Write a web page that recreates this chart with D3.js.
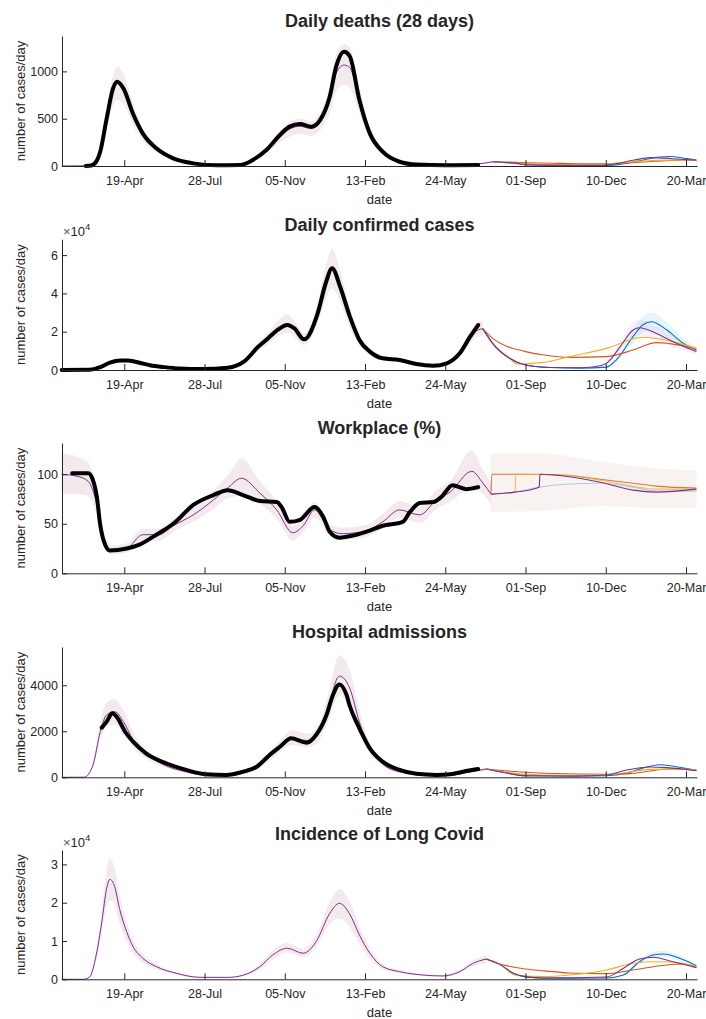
<!DOCTYPE html>
<html>
<head>
<meta charset="utf-8">
<script src="https://cdn.jsdelivr.net/npm/d3@7"></script>
<style>
body{margin:0;background:#fff}
text{font-family:"Liberation Sans",Arial,Helvetica,sans-serif;fill:#262626}
</style>
</head>
<body>
<svg id="chart" width="706" height="1019"></svg>
<script>
// x ticks, 100 days apart
var tickDates = ["2020-04-19","2020-07-28","2020-11-05","2021-02-13","2021-05-24","2021-09-01","2021-12-10","2022-03-20"]

// ---------- Daily deaths (28 days)
var deathsObs = [["2020-03-02",0],["2020-03-09",5],["2020-03-16",60],["2020-03-20",150],["2020-03-28",500],["2020-04-05",820],["2020-04-10",891],["2020-04-18",820],["2020-04-30",550],["2020-05-12",345],["2020-05-29",187],["2020-06-19",81],["2020-07-14",28],["2020-08-12",7],["2020-09-10",10],["2020-09-26",63],["2020-10-13",169],["2020-10-30",328],["2020-11-11",416],["2020-11-24",444],["2020-12-08",416],["2020-12-19",486],["2020-12-31",733],["2021-01-08",1050],["2021-01-18",1208],["2021-01-25",1160],["2021-02-06",698],["2021-02-19",345],["2021-03-07",151],["2021-03-28",45],["2021-04-18",15],["2021-05-24",7],["2021-07-04",10]]
// [date, lower, model, upper]
var deathsModel = [["2020-02-01",0,0,0],["2020-03-02",0,2,3],["2020-03-16",45,60,75],["2020-03-20",120,150,180],["2020-03-28",400,490,590],["2020-04-05",640,800,960],["2020-04-10",700,880,1050],["2020-04-18",650,810,975],["2020-04-30",430,540,650],["2020-05-12",270,335,400],["2020-05-29",145,180,215],["2020-06-19",62,78,94],["2020-07-14",20,26,32],["2020-08-12",4,6,8],["2020-09-10",7,10,13],["2020-09-26",45,58,70],["2020-10-13",130,160,190],["2020-10-30",250,310,370],["2020-11-11",310,390,470],["2020-11-24",340,420,500],["2020-12-08",315,395,475],["2020-12-19",380,470,560],["2020-12-31",560,700,840],["2021-01-08",780,980,1180],["2021-01-18",855,1067,1290],["2021-01-25",830,1040,1250],["2021-02-06",560,690,830],["2021-02-19",280,345,410],["2021-03-07",120,150,180],["2021-03-28",35,45,55],["2021-04-18",12,15,18],["2021-05-24",6,8,10],["2021-07-04",18,22,27],["2021-07-22",37,45,54]]
var deathsBlue = [["2021-07-22",45],["2021-08-21",26],["2021-09-19",10],["2021-10-14",6],["2021-11-08",5],["2021-12-03",6],["2021-12-23",12],["2022-01-21",55],["2022-02-15",95],["2022-02-28",100],["2022-03-20",80],["2022-04-02",64]]
var deathsOrange = [["2021-07-22",45],["2021-08-21",38],["2021-09-19",32],["2021-10-14",28],["2021-11-08",24],["2021-12-03",22],["2021-12-23",25],["2022-01-21",40],["2022-02-28",58],["2022-03-20",62],["2022-04-02",58]]
var deathsYellow = [["2021-07-22",45],["2021-08-21",28],["2021-09-19",18],["2021-10-14",15],["2021-11-08",15],["2021-12-03",18],["2021-12-23",30],["2022-01-21",50],["2022-02-28",62],["2022-03-20",62],["2022-04-02",58]]
var deathsPurple = [["2021-07-22",45],["2021-08-21",28],["2021-09-01",12],["2021-10-14",8],["2021-11-08",8],["2021-12-03",8],["2021-12-23",25],["2022-01-13",60],["2022-02-03",88],["2022-02-28",80],["2022-03-20",68],["2022-04-02",60]]

// ---------- Daily confirmed cases
var casesObs = [["2020-02-01",0],["2020-03-07",100],["2020-03-20",1500],["2020-04-01",3800],["2020-04-14",5000],["2020-04-24",4900],["2020-05-08",3800],["2020-05-21",2500],["2020-06-08",1500],["2020-06-27",800],["2020-07-25",500],["2020-08-26",1200],["2020-09-15",4350],["2020-10-03",12200],["2020-10-15",16500],["2020-10-27",20900],["2020-11-08",23500],["2020-11-17",21700],["2020-11-29",16000],["2020-12-16",29600],["2020-12-26",45300],["2021-01-03",53100],["2021-01-13",43500],["2021-01-25",28000],["2021-02-06",15700],["2021-02-19",9600],["2021-03-07",6100],["2021-03-28",5200],["2021-04-18",3100],["2021-05-09",2250],["2021-05-26",3500],["2021-06-11",8700],["2021-06-24",17400],["2021-07-04",23500]]
var casesModel = [["2020-02-01",0,0,0],["2020-03-07",50,100,150],["2020-03-20",1200,1500,1800],["2020-04-01",3100,3800,4500],["2020-04-14",4100,5000,5900],["2020-04-24",4000,4900,5800],["2020-05-08",3100,3800,4500],["2020-05-21",2000,2500,3000],["2020-06-08",1200,1500,1800],["2020-06-27",650,800,950],["2020-07-25",400,500,600],["2020-08-26",1000,1200,1400],["2020-09-15",3500,4300,5100],["2020-10-03",10000,12200,14500],["2020-10-15",13500,16500,19500],["2020-10-27",17500,21500,25500],["2020-11-08",19500,24000,29000],["2020-11-17",17500,21500,25500],["2020-11-29",13000,16000,19000],["2020-12-16",24500,29600,35000],["2020-12-26",37000,45300,54000],["2021-01-03",42500,52500,63500],["2021-01-13",35500,43500,52000],["2021-01-25",22500,27500,33000],["2021-02-06",12800,15700,18800],["2021-02-19",7800,9600,11400],["2021-03-07",5000,6100,7200],["2021-03-28",4300,5200,6100],["2021-04-18",2500,3100,3700],["2021-05-09",1850,2250,2650],["2021-05-26",2800,3500,4200],["2021-06-11",7000,8700,10500],["2021-06-24",14000,17000,20500],["2021-07-04",17500,21000,25000],["2021-07-10",17800,21500,25800]]
var casesBlue = [["2021-07-10",21500],["2021-07-22",13900],["2021-08-12",6100],["2021-09-01",2600],["2021-10-01",1300],["2021-11-08",1000],["2021-12-11",1500],["2021-12-23",5200],["2022-01-13",17400],["2022-01-25",23500],["2022-02-05",25200],["2022-02-24",20900],["2022-03-17",13900],["2022-04-02",10400]]
var casesOrange = [["2021-07-10",21500],["2021-07-22",16500],["2021-09-01",9600],["2021-09-24",7800],["2021-10-26",6600],["2021-12-11",7000],["2022-01-13",10400],["2022-02-11",14300],["2022-03-12",13000],["2022-04-02",11000]]
var casesYellow = [["2021-07-10",21500],["2021-07-22",13900],["2021-08-12",6300],["2021-08-21",3100],["2021-09-24",4000],["2021-10-26",7000],["2021-12-11",11300],["2022-01-25",17100],["2022-02-22",15700],["2022-04-02",11300]]
var casesPurple = [["2021-07-10",21500],["2021-07-22",13900],["2021-08-12",6100],["2021-09-01",2600],["2021-10-01",1300],["2021-11-08",1200],["2021-12-03",2200],["2021-12-11",3500],["2021-12-28",12200],["2022-01-13",20900],["2022-01-21",22100],["2022-02-11",19100],["2022-03-04",14800],["2022-04-02",9600]]
// [date, lower, upper]
var casesBlueBand = [["2021-12-11",1200,1800],["2021-12-23",4200,6300],["2022-01-13",14000,21000],["2022-01-25",19500,28000],["2022-02-05",20500,30000],["2022-02-24",17000,25000],["2022-03-17",11500,16500],["2022-04-02",8800,12000]]
var casesPurpleBand = [["2021-12-11",2800,4200],["2021-12-28",9800,14600],["2022-01-13",17000,25000],["2022-01-21",18000,26300],["2022-02-11",15500,22700],["2022-03-04",12000,17600],["2022-04-02",8000,11200]]

// ---------- Workplace (%)
var workObs = [["2020-02-14",101],["2020-03-05",101],["2020-03-11",94],["2020-03-16",76],["2020-03-20",49],["2020-03-26",29],["2020-04-01",23],["2020-04-22",25],["2020-05-08",29],["2020-05-29",39],["2020-06-19",50],["2020-07-14",69],["2020-08-08",79],["2020-08-26",84],["2020-09-14",79],["2020-10-05",73],["2020-10-26",72],["2020-11-01",67],["2020-11-11",52],["2020-11-24",54],["2020-12-12",67],["2020-12-23",57],["2020-12-31",42],["2021-01-12",36],["2021-02-02",39],["2021-02-15",42],["2021-03-07",48],["2021-04-01",52],["2021-04-10",62],["2021-04-22",71],["2021-05-09",72],["2021-05-19",77],["2021-06-02",89],["2021-06-19",85],["2021-07-04",87]]
var workModel = [["2020-02-01",80,100,121],["2020-02-20",80,98,118],["2020-03-05",78,93,112],["2020-03-16",58,69,82],["2020-03-24",30,36,43],["2020-04-03",19,23,28],["2020-04-22",21,25,30],["2020-05-12",33,39,45],["2020-06-01",33,39,45],["2020-06-19",42,48,55],["2020-07-14",52,59,67],["2020-08-08",65,74,84],["2020-08-27",76,87,100],["2020-09-12",78,96,116],["2020-10-05",70,81,93],["2020-10-26",55,64,73],["2020-11-15",33,41,48],["2020-11-28",42,48,55],["2020-12-12",56,64,72],["2020-12-31",38,44,50],["2021-01-16",34,40,46],["2021-02-15",37,43,49],["2021-03-07",45,52,60],["2021-03-28",56,64,73],["2021-04-22",51,59,67],["2021-05-13",65,74,84],["2021-05-30",72,82,93],["2021-06-26",86,103,124],["2021-07-10",80,91,104],["2021-07-20",70,80,92]]
var workBlue = [["2021-07-20",80],["2021-08-19",82],["2021-09-18",87],["2021-10-21",90],["2021-12-03",91],["2022-01-13",87],["2022-02-11",83],["2022-04-02",83]]
var workOrange = [["2021-07-20",80],["2021-07-21",100],["2021-08-12",100],["2021-09-01",100],["2021-10-21",99],["2021-12-03",95],["2022-01-13",91],["2022-02-11",88],["2022-04-02",86]]
var workYellow = [["2021-07-20",80],["2021-08-19",82],["2021-08-20",100],["2021-09-01",100],["2021-10-21",99],["2021-12-03",94],["2022-01-13",88],["2022-02-11",85],["2022-04-02",85]]
var workPurple = [["2021-07-20",80],["2021-08-19",82],["2021-09-18",87],["2021-09-19",100],["2021-10-21",98],["2021-12-03",92],["2022-01-13",84],["2022-02-11",82],["2022-04-02",85]]
var workFutureBand = [["2021-07-20",62,121],["2021-09-20",63,121],["2021-12-03",68,113],["2022-02-11",66,106],["2022-04-02",66,104]]

// ---------- Hospital admissions
var hospObs = [["2020-03-22",2160],["2020-03-28",2420],["2020-04-04",2780],["2020-04-11",2560],["2020-04-20",1980],["2020-04-30",1550],["2020-05-16",1040],["2020-06-10",610],["2020-07-05",320],["2020-07-30",130],["2020-08-24",100],["2020-09-14",245],["2020-10-01",460],["2020-10-17",970],["2020-10-30",1330],["2020-11-13",1700],["2020-12-02",1500],["2020-12-14",1840],["2020-12-27",2710],["2021-01-04",3580],["2021-01-12",4040],["2021-01-21",3580],["2021-01-25",3100],["2021-02-02",2420],["2021-02-06",2130],["2021-02-19",1260],["2021-03-07",680],["2021-03-28",320],["2021-04-18",150],["2021-05-13",100],["2021-05-30",130],["2021-06-15",245],["2021-07-04",360]]
var hospModel = [["2020-02-01",0,0,0],["2020-02-29",0,5,8],["2020-03-11",430,535,640],["2020-03-20",1600,1980,2400],["2020-03-28",2200,2710,3250],["2020-04-07",2300,2850,3400],["2020-04-18",1950,2420,2900],["2020-04-30",1300,1620,1950],["2020-05-21",720,900,1080],["2020-06-10",400,500,600],["2020-07-05",190,240,290],["2020-08-03",50,65,80],["2020-08-24",50,65,80],["2020-09-22",220,270,330],["2020-10-13",600,750,900],["2020-10-30",1100,1330,1600],["2020-11-15",1400,1720,2050],["2020-12-02",1300,1600,1900],["2020-12-14",1450,1770,2100],["2020-12-27",2250,2750,3300],["2021-01-12",3550,4400,5300],["2021-01-25",3100,3870,4650],["2021-02-06",1950,2400,2900],["2021-02-19",1020,1260,1500],["2021-03-07",470,580,700],["2021-03-28",190,240,290],["2021-05-09",52,65,78],["2021-05-30",60,80,100],["2021-06-19",160,200,240],["2021-07-14",290,361,430]]
var hospBlue = [["2021-07-14",361],["2021-08-04",217],["2021-09-01",65],["2021-11-01",50],["2021-12-11",70],["2022-01-05",180],["2022-01-25",400],["2022-02-15",548],["2022-03-04",480],["2022-04-02",300]]
var hospOrange = [["2021-07-14",361],["2021-08-21",245],["2021-09-24",174],["2021-12-11",130],["2022-01-05",150],["2022-02-28",361],["2022-03-20",350],["2022-04-02",300]]
var hospYellow = [["2021-07-14",361],["2021-08-21",160],["2021-09-24",100],["2021-11-08",90],["2021-12-11",110],["2022-01-13",250],["2022-02-03",346],["2022-03-12",360],["2022-04-02",300]]
var hospPurple = [["2021-07-14",361],["2021-08-04",217],["2021-09-01",70],["2021-11-01",57],["2021-12-11",100],["2022-01-05",317],["2022-02-03",448],["2022-02-24",420],["2022-04-02",287]]

// ---------- Incidence of Long Covid
var lcModel = [["2020-02-01",0,0,0],["2020-02-28",0,0,0],["2020-03-07",550,680,820],["2020-03-15",5100,6350,7600],["2020-03-22",12000,15000,18000],["2020-03-28",19000,23750,28500],["2020-04-01",20700,26100,31500],["2020-04-07",19300,24200,29000],["2020-04-13",14800,18500,22200],["2020-04-22",9900,12400,14900],["2020-04-30",6800,8500,10200],["2020-05-12",4400,5500,6600],["2020-05-29",2650,3300,3950],["2020-06-23",1250,1570,1900],["2020-07-22",420,520,620],["2020-08-26",400,500,600],["2020-09-15",900,1120,1350],["2020-10-05",2650,3300,3950],["2020-10-21",5100,6350,7600],["2020-11-08",7000,8100,9500],["2020-11-28",5800,6800,8000],["2020-12-14",8300,9800,11500],["2020-12-31",14500,17200,20200],["2021-01-12",15800,19850,23500],["2021-01-25",13600,17000,20300],["2021-02-06",9300,11570,13800],["2021-02-19",5400,6800,8200],["2021-03-07",2650,3300,3950],["2021-03-28",1600,2000,2400],["2021-04-26",900,1120,1340],["2021-05-21",700,870,1040],["2021-06-11",1600,2000,2400],["2021-06-28",3400,4200,5000],["2021-07-14",4400,5300,6300]]
var lcBlue = [["2021-07-14",5300],["2021-07-31",3900],["2021-08-17",1500],["2021-09-01",600],["2021-09-24",300],["2021-12-11",350],["2022-01-01",1120],["2022-01-21",4600],["2022-02-07",6350],["2022-02-20",6600],["2022-03-12",5500],["2022-04-02",3570]]
var lcOrange = [["2021-07-14",5300],["2021-07-22",4600],["2021-09-01",2700],["2021-09-24",2200],["2021-10-26",1650],["2021-12-11",1480],["2022-01-13",2440],["2022-02-24",3740],["2022-03-17",4000],["2022-04-02",3300]]
var lcYellow = [["2021-07-14",5300],["2021-07-31",3900],["2021-08-19",1120],["2021-09-24",700],["2021-10-26",1120],["2021-12-11",2440],["2022-01-13",4180],["2022-02-03",4600],["2022-03-04",4500],["2022-04-02",3300]]
var lcPurple = [["2021-07-14",5300],["2021-07-31",3900],["2021-08-17",1570],["2021-09-01",700],["2021-09-24",350],["2021-12-11",600],["2022-01-01",2870],["2022-01-21",5300],["2022-02-07",5740],["2022-02-28",4780],["2022-04-02",3050]]
var lcBlueBand = [["2021-12-11",300,420],["2022-01-01",950,1300],["2022-01-21",4000,5300],["2022-02-07",5600,7200],["2022-02-20",5800,7500],["2022-03-12",4800,6200],["2022-04-02",3200,3950]]

var cBlue = '#0072BD', cOrange = '#D95319', cYellow = '#EDB120', cPurple = '#7E2F8E'

var parse = d3.utcParse('%Y-%m-%d')
var svg = d3.select('#chart')

var x = d3.scaleUtc()
    .domain([Date.UTC(2020, 1, 1, 9), Date.UTC(2022, 3, 2, 17)])
    .range([62, 697])

function pts(a) {
    return a.map(function(d) { return {t: parse(d[0]), v: d[1], lo: d[1], hi: d[2]} })
}
function pts3(a) {
    return a.map(function(d) { return {t: parse(d[0]), lo: d[1], v: d[2], hi: d[3]} })
}

function panel(p) {
    var g = svg.append('g')
    var y = d3.scaleLinear().domain([0, p.yMax]).range([p.bottom, p.top])

    var line = d3.line().x(function(d) { return x(d.t) }).y(function(d) { return y(d.v) }).curve(d3.curveMonotoneX)
    var area = d3.area().x(function(d) { return x(d.t) })
        .y0(function(d) { return y(d.lo) }).y1(function(d) { return y(d.hi) })
        .curve(d3.curveMonotoneX)

    var model = pts3(p.model)
    g.append('path').datum(model).attr('d', area).attr('fill', '#f2eaec')

    // faint uncertainty of the scenarios
    ;(p.bands || []).forEach(function(b) {
        g.append('path').datum(pts(b.data)).attr('d', area)
            .attr('fill', b.color).attr('fill-opacity', b.op)
    })

    g.append('path').datum(model).attr('d', line)
        .attr('fill', 'none').attr('stroke', cPurple).attr('stroke-width', 1)

    p.scen.forEach(function(s) {
        var d = s.data.map(function(r) { return {t: parse(r[0]), v: r[1]} })
        g.append('path').datum(d).attr('d', line)
            .attr('fill', 'none').attr('stroke', s.color)
            .attr('stroke-opacity', s.op || 1)
            .attr('stroke-width', 1.1)
    })

    if (p.obs) {
        var o = p.obs.map(function(r) { return {t: parse(r[0]), v: r[1]} })
        g.append('path').datum(o).attr('d', line)
            .attr('fill', 'none').attr('stroke', '#000')
            .attr('stroke-width', 4).attr('stroke-linejoin', 'round').attr('stroke-linecap', 'round')
    }

    // axes, ticks inside like matlab
    var xa = g.append('g').attr('transform', 'translate(0,' + p.bottom + ')')
        .call(d3.axisBottom(x).tickValues(tickDates.map(parse))
            .tickFormat(d3.utcFormat('%d-%b')).tickSizeInner(-6).tickSizeOuter(0).tickPadding(10))
    var ya = g.append('g').attr('transform', 'translate(62,0)')
        .call(d3.axisLeft(y).tickValues(p.yTicks)
            .tickFormat(function(d) { return p.exp ? d / p.exp : d })
            .tickSizeInner(-5).tickSizeOuter(0).tickPadding(4))
    ;[xa, ya].forEach(function(a) {
        a.selectAll('path,line').attr('stroke', '#262626')
        a.selectAll('text').style('font-size', '12.5px').attr('fill', '#262626')
    })

    if (p.exp) {
        var e = g.append('text').attr('x', 63).attr('y', p.top - 3).style('font-size', '13px')
        e.append('tspan').attr('fill', '#555').text('\u00d7')
        e.append('tspan').text('10')
        e.append('tspan').attr('dy', -6).style('font-size', '9.5px').text('4')
    }

    g.append('text').attr('x', 379.5).attr('y', p.bottom - 139)
        .attr('text-anchor', 'middle').style('font-size', '18px').style('font-weight', 'bold')
        .attr('fill', '#000').text(p.title)
    g.append('text').attr('x', 379.5).attr('y', p.bottom + 38)
        .attr('text-anchor', 'middle').style('font-size', '13px').text('date')
    g.append('text')
        .attr('transform', 'translate(24.5,' + (p.top + p.bottom) / 2 + ') rotate(-90)')
        .attr('text-anchor', 'middle').style('font-size', '13px').text('number of cases/day')
}

panel({title: 'Daily deaths (28 days)', top: 36, bottom: 166, yMax: 1374, yTicks: [0, 500, 1000],
    model: deathsModel, obs: deathsObs,
    scen: [{data: deathsBlue, color: cBlue}, {data: deathsOrange, color: cOrange},
           {data: deathsYellow, color: cYellow}, {data: deathsPurple, color: cPurple}]})

panel({title: 'Daily confirmed cases', top: 239.3, bottom: 370, yMax: 68250, yTicks: [0, 20000, 40000, 60000], exp: 10000,
    model: casesModel, obs: casesObs,
    bands: [{data: casesBlueBand, color: '#9fd3f0', op: 0.25}, {data: casesPurpleBand, color: '#c9a6cf', op: 0.15}],
    scen: [{data: casesBlue, color: cBlue}, {data: casesOrange, color: cOrange},
           {data: casesYellow, color: cYellow}, {data: casesPurple, color: cPurple}]})

panel({title: 'Workplace (%)', top: 443, bottom: 573.3, yMax: 131.6, yTicks: [0, 50, 100],
    model: workModel, obs: workObs,
    bands: [{data: workFutureBand, color: '#f8f3f1', op: 1}],
    scen: [{data: workBlue, color: cBlue, op: 0.3}, {data: workOrange, color: cOrange, op: 0.8},
           {data: workYellow, color: cYellow, op: 0.8}, {data: workPurple, color: cPurple}]})

panel({title: 'Hospital admissions', top: 647, bottom: 777.3, yMax: 5665, yTicks: [0, 2000, 4000],
    model: hospModel, obs: hospObs,
    scen: [{data: hospBlue, color: cBlue}, {data: hospOrange, color: cOrange},
           {data: hospYellow, color: cYellow}, {data: hospPurple, color: cPurple}]})

panel({title: 'Incidence of Long Covid', top: 850, bottom: 979.3, yMax: 33760, yTicks: [0, 10000, 20000, 30000], exp: 10000,
    model: lcModel,
    bands: [{data: lcBlueBand, color: '#9fd3f0', op: 0.25}],
    scen: [{data: lcBlue, color: cBlue}, {data: lcOrange, color: cOrange},
           {data: lcYellow, color: cYellow}, {data: lcPurple, color: cPurple}]})
</script>
</body>
</html>
